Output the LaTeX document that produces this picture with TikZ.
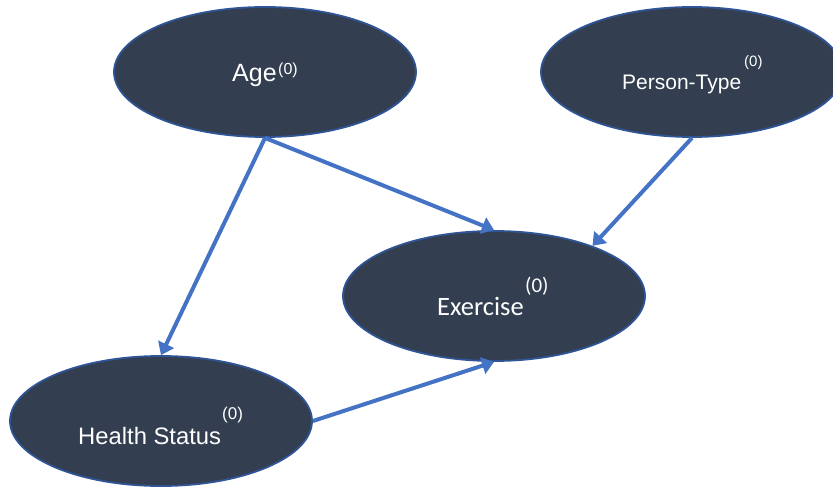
\documentclass[tikz,border=0pt]{standalone}
\usepackage{fontspec}
\setmainfont{Liberation Sans}
\newfontfamily\carlito{Carlito}
\usetikzlibrary{shapes.geometric,arrows.meta}
\definecolor{nodefill}{HTML}{333F50}
\definecolor{nodeline}{HTML}{2F5597}
\definecolor{arrowblue}{HTML}{4472C4}
\begin{document}
\begin{tikzpicture}[x=1pt,y=-1pt,
  ell/.style={ellipse, draw=nodeline, fill=nodefill, line width=1.8pt,
    minimum width=302pt, minimum height=130pt, inner sep=0pt},
  lbl/.style={anchor=base west, inner sep=0pt, text=white},
  edge/.style={draw=arrowblue, line width=4pt,
    -{Triangle[length=12pt,width=17pt]}}]
\useasboundingbox (0,0) rectangle (833,489);
\node[ell] (age) at (265,72) {};
\node[ell] (pt) at (692,72) {};
\node[ell] (ex) at (494,296) {};
\node[ell] (hs) at (161,421) {};
\node[lbl, font=\fontsize{25}{25}\selectfont] (agel) at (232,82) {Age};
\node[lbl, font=\fontsize{16}{16}\selectfont] (ages) at (278,75) {(0)};
\node[lbl, font=\fontsize{21}{21}\selectfont] (ptl) at (622,90) {Person-Type};
\node[lbl, font=\fontsize{15}{15}\selectfont] (pts) at (744,67) {(0)};
\node[lbl, font=\carlito\fontsize{26.5}{26.5}\selectfont] (exl) at (437,316) {Exercise};
\node[lbl, font=\carlito\fontsize{21}{21}\selectfont] (exs) at (525,293) {(0)};
\node[lbl, font=\fontsize{23.8}{23.8}\selectfont] (hsl) at (78,444) {Health Status};
\node[lbl, font=\fontsize{17}{17}\selectfont] (hss) at (222,419) {(0)};
\draw[edge] (age.south) -- (hs.north);
\draw[edge] (age.south) -- (ex.north);
\draw[edge] (pt.south) -- (ex.27);
\draw[edge] (hs.east) -- (ex.south);
\end{tikzpicture}
\end{document}
